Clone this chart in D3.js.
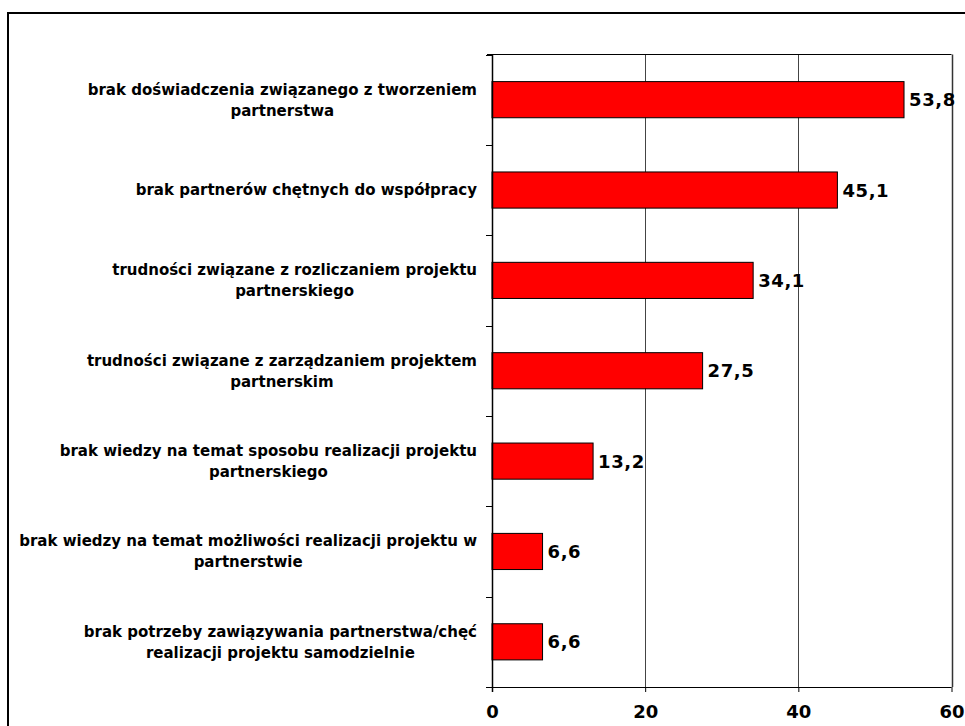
<!DOCTYPE html>
<html><head><meta charset="utf-8">
<script src="https://cdn.jsdelivr.net/npm/d3@7"></script>
<style>html,body{margin:0;padding:0;background:#fff;overflow:hidden}</style>
</head><body>
<script>
const categories = [
  ["brak doświadczenia związanego z tworzeniem", "partnerstwa"],
  ["brak partnerów chętnych do współpracy"],
  ["trudności związane z rozliczaniem projektu", "partnerskiego"],
  ["trudności związane z zarządzaniem projektem", "partnerskim"],
  ["brak wiedzy na temat sposobu realizacji projektu", "partnerskiego"],
  ["brak wiedzy na temat możliwości realizacji projektu w", "partnerstwie"],
  ["brak potrzeby zawiązywania partnerstwa/chęć", "realizacji projektu samodzielnie"]
];
const values = [53.8, 45.1, 34.1, 27.5, 13.2, 6.6, 6.6];
const xTicks = [0, 20, 40, 60];

const W = 965, H = 726;
const font = "'DejaVu Sans', Verdana, sans-serif";
const svg = d3.select("body").append("svg").attr("width", W).attr("height", H);

// outer frame
svg.append("rect").attr("x", 8).attr("y", 13).attr("width", 1000).attr("height", 1000)
  .attr("fill", "none").attr("stroke", "#000").attr("stroke-width", 2);

const L = 492, R = 951.5, T = 54.5, B = 687;
const x = d3.scaleLinear().domain([0, 60]).range([L, R]);
const y = d3.scaleBand().domain(d3.range(categories.length)).range([T, B]).paddingInner(0.6).paddingOuter(0.3);

// gridlines
svg.append("g").selectAll("line").data(xTicks.filter(t => t > 0)).join("line")
  .attr("x1", d => Math.round(x(d)) + 0.5).attr("x2", d => Math.round(x(d)) + 0.5)
  .attr("y1", T).attr("y2", B).attr("stroke", d => d === 60 ? "#333" : "#444").attr("stroke-width", d => d === 60 ? 1.5 : 1);
// top border
svg.append("line").attr("x1", L - 5).attr("x2", R).attr("y1", T).attr("y2", T).attr("stroke", "#000").attr("stroke-width", 1);

// bars
svg.append("g").selectAll("rect").data(values).join("rect")
  .attr("x", x(0)).attr("y", (d, i) => y(i)).attr("width", d => x(d) - x(0)).attr("height", y.bandwidth())
  .attr("fill", "#ff0000").attr("stroke", "#000").attr("stroke-width", 1);

// value labels
svg.append("g").selectAll("text").data(values).join("text")
  .attr("x", d => x(d) + 5).attr("y", (d, i) => y(i) + y.bandwidth() / 2)
  .attr("dy", "0.36em").attr("font-family", font).attr("font-weight", "bold").attr("font-size", "18px")
  .attr("letter-spacing", "0.6px")
  .text(d => d.toFixed(1).replace(".", ","));

// x axis
const xAxis = svg.append("g").attr("transform", `translate(0,${B})`)
  .call(d3.axisBottom(x).tickValues(xTicks).tickSize(5).tickPadding(13).tickFormat(d => d));
xAxis.select(".domain").attr("stroke", "#000").attr("d", `M${L - 6},0.5H${R}`);
xAxis.selectAll("text").attr("font-family", font).attr("font-weight", "bold").attr("font-size", "18px").attr("fill", "#000");

// y axis (ticks at band boundaries)
const boundaries = d3.range(categories.length + 1).map(i => T + i * (B - T) / categories.length);
svg.append("line").attr("x1", L + 0.5).attr("x2", L + 0.5).attr("y1", T).attr("y2", B + 5).attr("stroke", "#000").attr("stroke-width", 1.5);
svg.append("g").selectAll("line").data(boundaries).join("line")
  .attr("x1", L - 6).attr("x2", L).attr("y1", d => Math.round(d) + 0.5).attr("y2", d => Math.round(d) + 0.5)
  .attr("stroke", "#000");

// category labels
const labelRight = 477, lh = 21;
const lg = svg.append("g");
categories.forEach((lines, i) => {
  const cy = y(i) + y.bandwidth() / 2;
  const g = lg.append("g");
  const texts = lines.map((s, j) => g.append("text")
    .attr("font-family", font).attr("font-weight", "bold").attr("font-size", "15px")
    .attr("text-anchor", "middle")
    .attr("y", cy + (j - (lines.length - 1) / 2) * lh).attr("dy", "0.36em").text(s));
  const maxW = d3.max(texts, t => t.node().getComputedTextLength());
  texts.forEach(t => t.attr("x", labelRight - maxW / 2));
});
</script>
</body></html>
